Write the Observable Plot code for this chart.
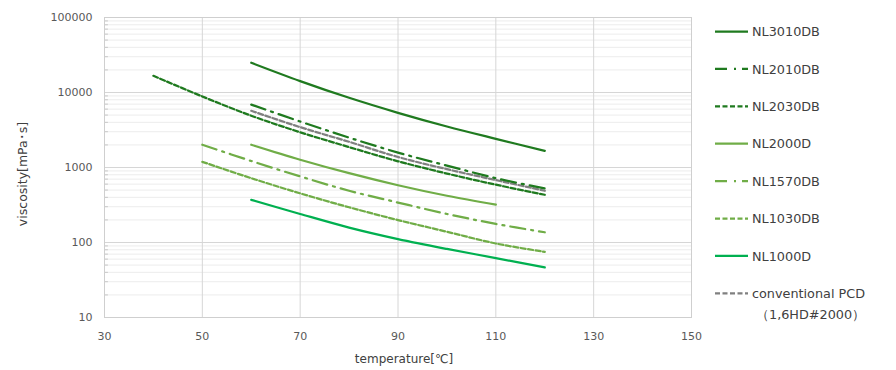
<!DOCTYPE html>
<html><head><meta charset="utf-8">
<script src="https://cdn.jsdelivr.net/npm/d3@7"></script>
<script src="https://cdn.jsdelivr.net/npm/@observablehq/plot@0.6"></script>
<style>
body{margin:0;background:#fff;width:896px;height:370px;overflow:hidden;position:relative;font-family:"DejaVu Sans",sans-serif}
#chart{position:absolute;left:0;top:0}
#legend{position:absolute;left:700px;top:0}
</style></head><body>
<div id="chart"></div><div id="legend"></div>
<script>
// ---- data ----
const xTicks = [30, 50, 70, 90, 110, 130, 150];
const yTicks = [10, 100, 1000, 10000, 100000];
const xTitle = "temperature[℃]";
const yTitle = "viscosity[mPa･s]";

const seriesNames = ["NL3010DB", "NL2010DB", "NL2030DB", "NL2000D", "NL1570DB", "NL1030DB", "NL1000D", "conventional PCD"];
const legendSub = "（1,6HD#2000）";

const t_NL3010DB = [60, 70, 80, 90, 100, 110, 120];
const v_NL3010DB = [24900, 14200, 8500, 5360, 3520, 2410, 1670];
const t_NL2010DB = [60, 70, 80, 90, 100, 110, 120];
const v_NL2010DB = [6900, 4100, 2500, 1580, 1060, 720, 525];
const t_NL2030DB = [40, 50, 60, 70, 80, 90, 100, 110, 120];
const v_NL2030DB = [16700, 8850, 4900, 2950, 1870, 1210, 830, 590, 433];
const t_NL2000D = [60, 70, 80, 90, 100, 110];
const v_NL2000D = [2010, 1270, 840, 580, 420, 320];
const t_NL1570DB = [50, 60, 70, 80, 90, 100, 110, 120];
const v_NL1570DB = [2010, 1220, 760, 490, 341, 240, 177, 137];
const t_NL1030DB = [50, 60, 70, 80, 90, 100, 110, 120];
const v_NL1030DB = [1190, 720, 452, 295, 199, 139, 97, 75];
const t_NL1000D = [60, 70, 80, 90, 100, 110, 120];
const v_NL1000D = [371, 240, 158, 111, 82, 62, 46.5];
const t_PCD = [60, 70, 80, 90, 100, 110, 120];
const v_PCD = [5700, 3450, 2200, 1380, 950, 680, 490];

// ---- styles ----
const DARK = "#1f7a1f", LIGHT = "#70ad47", TEAL = "#00b050", GRAY = "#808080";
const DASHDOT = "15,6,2,6", DASH = "5,2.5";
const seriesStyle = {
  "NL3010DB": {stroke: DARK, dash: null},
  "NL2010DB": {stroke: DARK, dash: DASHDOT},
  "NL2030DB": {stroke: DARK, dash: DASH},
  "NL2000D": {stroke: LIGHT, dash: null},
  "NL1570DB": {stroke: LIGHT, dash: DASHDOT},
  "NL1030DB": {stroke: LIGHT, dash: DASH},
  "NL1000D": {stroke: TEAL, dash: null},
  "conventional PCD": {stroke: GRAY, dash: DASH}
};
const seriesData = {
  "NL3010DB": [t_NL3010DB, v_NL3010DB],
  "NL2010DB": [t_NL2010DB, v_NL2010DB],
  "NL2030DB": [t_NL2030DB, v_NL2030DB],
  "NL2000D": [t_NL2000D, v_NL2000D],
  "NL1570DB": [t_NL1570DB, v_NL1570DB],
  "NL1030DB": [t_NL1030DB, v_NL1030DB],
  "NL1000D": [t_NL1000D, v_NL1000D],
  "conventional PCD": [t_PCD, v_PCD]
};
const drawOrder = ["conventional PCD", "NL1000D", "NL1030DB", "NL1570DB", "NL2000D", "NL2030DB", "NL2010DB", "NL3010DB"];

const minorY = [];
for (const d of [10, 100, 1000, 10000]) for (let k = 2; k <= 9; k++) minorY.push(d * k);

const lineMarks = drawOrder.map(name => {
  const [ts, vs] = seriesData[name];
  const rows = ts.map((t, i) => ({t, v: vs[i]}));
  const s = seriesStyle[name];
  return Plot.line(rows, {x: "t", y: "v", stroke: s.stroke, strokeWidth: 2.25,
    strokeDasharray: s.dash || undefined, curve: "catmull-rom"});
});

const chart = Plot.plot({
  width: 712, height: 370,
  marginLeft: 104, marginRight: 21, marginTop: 17, marginBottom: 53,
  style: {fontFamily: "DejaVu Sans, sans-serif", fontSize: "11px", color: "#595959", background: "transparent"},
  x: {domain: [30, 150], label: null},
  y: {type: "log", domain: [10, 100000], label: null},
  marks: [
    Plot.ruleY(minorY, {stroke: "#ececec", strokeWidth: 1}),
    Plot.ruleY(minorY, {x1: 30, x2: 30.8, stroke: "#c8c8c8"}),
    Plot.ruleY(yTicks, {stroke: "#d6d6d6", strokeWidth: 1}),
    Plot.ruleX(xTicks, {stroke: "#d6d6d6", strokeWidth: 1}),
    Plot.frame({stroke: "#cfcfcf"}),
    Plot.axisX(xTicks, {tickSize: 0, tickPadding: 15, label: null, fill: "#595959"}),
    Plot.axisY(yTicks, {tickSize: 0, tickPadding: 12, tickFormat: d => String(d), label: null, fill: "#595959"}),
    ...lineMarks
  ]
});
document.getElementById("chart").appendChild(chart);

// axis titles placed directly in the chart SVG
const svg = d3.select(chart);
svg.append("text").attr("transform", "translate(404,359)").attr("text-anchor", "middle")
  .attr("dy", "0.36em").attr("font-size", 12).attr("fill", "#404040").text(xTitle);
svg.append("text").attr("transform", "translate(22,174) rotate(-90)").attr("text-anchor", "middle")
  .attr("dy", "0.36em").attr("font-size", 12.5).attr("fill", "#404040").text(yTitle);

// ---- legend ----
const rowY0 = 31.5, rowStep = 37.4;
const lg = d3.select("#legend").append("svg").attr("width", 196).attr("height", 370)
  .style("font-family", "DejaVu Sans, sans-serif").style("font-size", "12.8px");
seriesNames.forEach((name, i) => {
  const y = rowY0 + i * rowStep;
  const s = seriesStyle[name];
  lg.append("line").attr("x1", 15).attr("x2", 48).attr("y1", y).attr("y2", y)
    .attr("stroke", s.stroke).attr("stroke-width", 2.25)
    .attr("stroke-dasharray", s.dash === DASHDOT ? "12,7,2,6" : (s.dash || null));
  lg.append("text").attr("x", 52).attr("y", y).attr("dy", "0.36em").attr("fill", "#404040").text(name);
});
lg.append("text").attr("x", 56).attr("y", rowY0 + 7 * rowStep + 21).attr("dy", "0.36em")
  .attr("fill", "#404040").text(legendSub);
</script>
</body></html>
